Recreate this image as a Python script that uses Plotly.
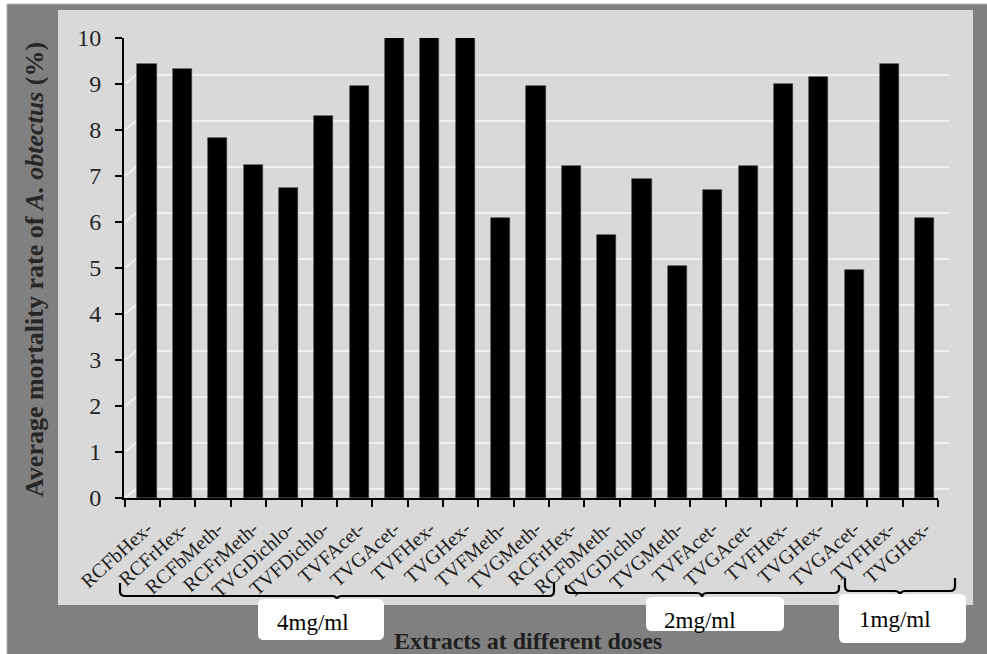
import plotly.graph_objects as go

# ---------------- data ----------------
labels = ["RCFbHex-", "RCFrHex-", "RCFbMeth-", "RCFrMeth-", "TVGDichlo-", "TVFDichlo-",
          "TVFAcet-", "TVGAcet-", "TVFHex-", "TVGHex-", "TVFMeth-", "TVGMeth-",
          "RCFrHex-", "RCFbMeth-", "TVGDichlo-", "TVGMeth-", "TVFAcet-", "TVGAcet-",
          "TVFHex-", "TVGHex-",
          "TVGAcet-", "TVFHex-", "TVGHex-"]
mortality = [9.43, 9.33, 7.82, 7.25, 6.73, 8.30, 8.95, 10.0, 10.04, 10.04, 6.09, 8.95,
             7.22, 5.71, 6.93, 5.04, 6.70, 7.21, 9.0, 9.16,
             4.96, 9.43, 6.09]
y_ticks = [0, 1, 2, 3, 4, 5, 6, 7, 8, 9, 10]
dose_groups = ["4mg/ml", "2mg/ml", "1mg/ml"]
group_sizes = [12, 8, 3]

# ---------------- geometry / style ----------------
W, H = 987, 654
L, R, T, B = 124, 49, 38, 156
PW, PH = W - L - R, H - T - B
FONT = "Liberation Serif"
FRAME = "#808080"
PANEL = "#d9d9d9"
GRID = "#f0f0f0"
TXT = "#1f1f1f"


def X(p):  # pixel -> paper x
    return (p - L) / PW


def Y(p):  # pixel -> paper y
    return (H - B - p) / PH


xs = list(range(1, len(labels) + 1))

fig = go.Figure()
fig.add_trace(go.Bar(
    x=xs, y=mortality, width=0.54,
    marker=dict(color="black", line=dict(color="#3a3a3a", width=0.6)),
    cliponaxis=False, hoverinfo="skip",
))

shapes = []
# outer dark frame
shapes.append(dict(type="rect", xref="paper", yref="paper", layer="below",
                   x0=X(7), x1=X(W + 2), y0=Y(4), y1=Y(H + 2),
                   fillcolor=FRAME, line=dict(color="#b0b0b0", width=1)))
# light panel
shapes.append(dict(type="rect", xref="paper", yref="paper", layer="below",
                   x0=X(58), x1=X(973), y0=Y(10), y1=Y(605),
                   fillcolor=PANEL, line=dict(width=0)))
# pseudo-3D gridlines (back wall), offset up/right from ticks
for v in y_ticks:
    shapes.append(dict(type="path", xref="paper", yref="y", ysizemode="pixel", yanchor=v,
                       layer="below",
                       path=f"M{X(125)},0 L{X(136)},9 L{X(949)},9",
                       line=dict(color=GRID, width=2)))

# dose brackets (pixel geometry of the hand-drawn braces)
bracket_px = [(120, 554, 583, 596, 337, 600),
              (566, 839, 585, 593, 702, 598),
              (845, 955, 578, 591, 900, 596)]
for (x0, x1, yt, yb, xm, yn) in bracket_px:
    r = 5
    path = (f"M{X(x0)},{Y(yt)} L{X(x0)},{Y(yb - r)} Q{X(x0)},{Y(yb)} {X(x0 + r)},{Y(yb)} "
            f"L{X(xm - r)},{Y(yb)} Q{X(xm)},{Y(yb)} {X(xm)},{Y(yn)} "
            f"Q{X(xm)},{Y(yb)} {X(xm + r)},{Y(yb)} "
            f"L{X(x1 - r)},{Y(yb)} Q{X(x1)},{Y(yb)} {X(x1)},{Y(yb - r)} L{X(x1)},{Y(yt)}")
    shapes.append(dict(type="path", xref="paper", yref="paper", path=path,
                       line=dict(color="black", width=2.2)))

# white rounded label boxes
box_px = [(258, 384, 599, 640), (646, 784, 597, 631), (839, 966, 594, 643)]
for (x0, x1, y0, y1) in box_px:
    r = 6
    path = (f"M{X(x0 + r)},{Y(y0)} L{X(x1 - r)},{Y(y0)} Q{X(x1)},{Y(y0)} {X(x1)},{Y(y0 + r)} "
            f"L{X(x1)},{Y(y1 - r)} Q{X(x1)},{Y(y1)} {X(x1 - r)},{Y(y1)} "
            f"L{X(x0 + r)},{Y(y1)} Q{X(x0)},{Y(y1)} {X(x0)},{Y(y1 - r)} "
            f"L{X(x0)},{Y(y0 + r)} Q{X(x0)},{Y(y0)} {X(x0 + r)},{Y(y0)} Z")
    shapes.append(dict(type="path", xref="paper", yref="paper", path=path,
                       fillcolor="white", line=dict(width=0)))

annotations = []
# x-axis title
annotations.append(dict(text="<b>Extracts at different doses</b>", xref="paper", yref="paper",
                        x=X(528), y=Y(641), xanchor="center", yanchor="middle",
                        showarrow=False, font=dict(family=FONT, size=24, color=TXT)))
# y-axis title
annotations.append(dict(text="<b>Average mortality rate of <i>A. obtectus</i> (%)</b>",
                        xref="paper", yref="paper", x=X(34), y=Y(270),
                        xanchor="center", yanchor="middle", textangle=-90,
                        showarrow=False, font=dict(family=FONT, size=26, color="#262626")))
# dose labels
label_px = [(313, 622), (700, 620), (895, 619)]
for name, (cx, cy) in zip(dose_groups, label_px):
    annotations.append(dict(text=name, xref="paper", yref="paper", x=X(cx), y=Y(cy),
                            xanchor="center", yanchor="middle", showarrow=False,
                            font=dict(family=FONT, size=23, color="black")))

fig.update_layout(
    width=W, height=H,
    margin=dict(l=L, r=R, t=T, b=B, pad=0, autoexpand=False),
    paper_bgcolor="white", plot_bgcolor="rgba(0,0,0,0)",
    showlegend=False, bargap=0,
    shapes=shapes, annotations=annotations,
    font=dict(family=FONT, color=TXT),
)
fig.update_xaxes(
    range=[0.35, 23.37], tickmode="array", tickvals=xs, ticktext=labels,
    tickangle=-42, ticks="", showgrid=False, zeroline=False,
    showline=True, linecolor="black", linewidth=2, automargin=False,
    ticklabelstandoff=9,
    tickfont=dict(family=FONT, size=20, color=TXT),
    minor=dict(tickmode="array", tickvals=[0.37 + k for k in range(24)],
               ticks="outside", ticklen=7, tickwidth=2, tickcolor="black", showgrid=False),
)
fig.update_yaxes(
    range=[0, 10], tickmode="array", tickvals=y_ticks,
    ticks="outside", ticklen=7, tickwidth=2, tickcolor="black",
    showgrid=False, zeroline=False, showline=True, linecolor="black", linewidth=2,
    automargin=False, ticklabelstandoff=9,
    tickfont=dict(family=FONT, size=24, color="#262626"),
)

fig.write_html("out.html", config={"displayModeBar": False},
               post_script="document.body.style.margin='0';document.body.style.overflow='hidden';")
